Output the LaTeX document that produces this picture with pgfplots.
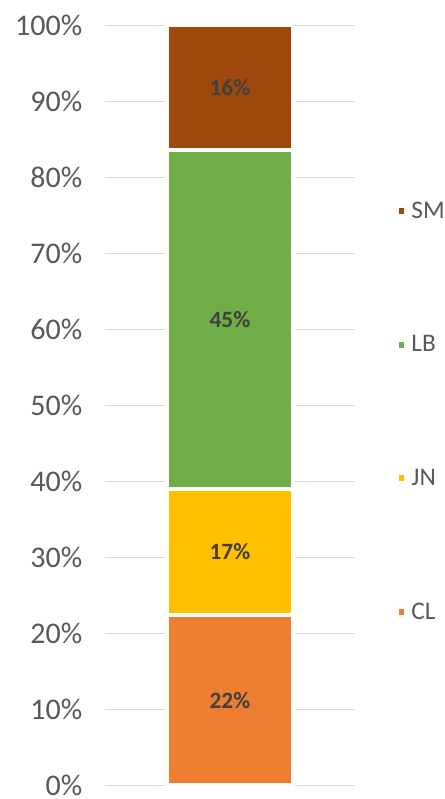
\documentclass[border=0pt]{standalone}
\usepackage{fontspec}
\setmainfont{Carlito}
\usepackage{pgfplots}
\pgfplotsset{compat=1.18}
\usepackage{xcolor}
\definecolor{cSM}{HTML}{9E480E}
\definecolor{cLB}{HTML}{70AD47}
\definecolor{cJN}{HTML}{FFC000}
\definecolor{cCL}{HTML}{ED7D31}
\definecolor{txtgray}{HTML}{595959}
\definecolor{lblgray}{HTML}{404040}
\definecolor{gridgray}{HTML}{D9D9D9}

\begin{document}
\begin{tikzpicture}
\begin{axis}[
    ybar stacked,
    scale only axis,
    width=187.5pt, height=570pt,
    bar width=94pt,
    xmin=-1, xmax=1,
    ymin=0, ymax=100,
    ytick={0,10,...,100},
    xtick=\empty,
    axis line style={draw=none},
    major tick length=0pt,
    ymajorgrids,
    grid style={gridgray, line width=0.9pt},
    /pgf/number format/assume math mode=true,
    yticklabel={\pgfmathprintnumber{\tick}\%},
    yticklabel style={font=\fontsize{22.5}{26}\selectfont, text=txtgray, anchor=east, xshift=-13.5pt},
    point meta=explicit symbolic,
    nodes near coords,
    every node near coord/.append style={font=\fontsize{17.5}{20}\selectfont\bfseries, text=lblgray,
        anchor=center},
    reverse legend,
    legend style={at={(1.158,0.492)}, anchor=west, draw=none, fill=none,
        font=\fontsize{19}{22}\selectfont, text=txtgray,
        row sep=81.5pt, inner sep=0pt,
        nodes={inner sep=2.5pt}},
    legend cell align=left,
    legend image code/.code={\fill[#1] (0pt,-3.6pt) rectangle (7.2pt,3.6pt);},
]
\addplot[fill=cCL, draw=white, line width=2.8pt] coordinates {(0,22.4) [22\%]};
\addlegendentry{CL}
\addplot[fill=cJN, draw=white, line width=2.8pt] coordinates {(0,16.6) [17\%]};
\addlegendentry{JN}
\addplot[fill=cLB, draw=white, line width=2.8pt] coordinates {(0,44.6) [45\%]};
\addlegendentry{LB}
\addplot[fill=cSM, draw=white, line width=2.8pt] coordinates {(0,16.4) [16\%]};
\addlegendentry{SM}
\end{axis}
\pgfresetboundingbox
\path ([xshift=-78.75pt,yshift=-10.25pt]current axis.south west)
    rectangle ([xshift=66.75pt,yshift=19pt]current axis.north east);
\end{tikzpicture}
\end{document}
